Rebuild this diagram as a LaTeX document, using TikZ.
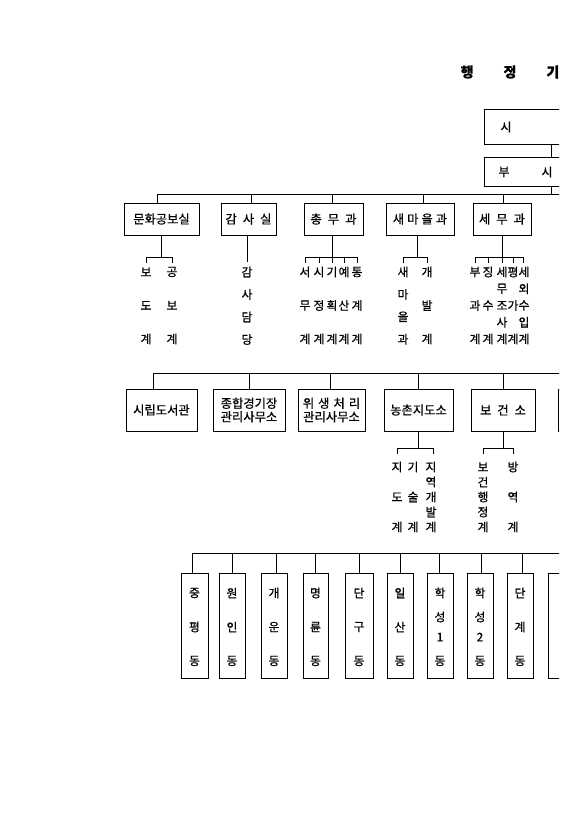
\documentclass[tikz,border=0pt]{standalone}
\usepackage{fontspec}
\setmainfont{Noto Sans CJK KR}[FakeBold=0.7]
\newcommand\kgap{\hspace{6pt}}
\newcommand\vcol[5]{\foreach \ch [count=\i from 0] in {#5}{\node[sub] (#1-\i) at ({#2},{#3+\i*#4}) {\ch};}}
\tikzset{
  box/.style={draw, line width=1pt, inner sep=0pt, font=\fontsize{12.3}{13.5}\selectfont, align=center},
  sub/.style={inner sep=0pt, font=\fontsize{11.8}{12}\selectfont},
  ln/.style={line width=0.8pt},
}
\begin{document}
\begin{tikzpicture}[x=1pt,y=-1pt]
\useasboundingbox (0,0) rectangle (586,830);
\clip (0,0) rectangle (559,830);

% title
\node[font=\bfseries\fontsize{14}{14}\selectfont, inner sep=0pt] (title) at (510,72) {행\hspace{30pt}정\hspace{30pt}기};

% top boxes
\node[box, anchor=north west, minimum width=140pt, minimum height=35pt] (si) at (484,109) {};
\node[sub, font=\fontsize{12}{12}\selectfont] (sit) at (506,127) {시};
\node[box, anchor=north west, minimum width=140pt, minimum height=29pt] (bs) at (484,157) {};
\node[sub, font=\fontsize{12}{12}\selectfont] (bst1) at (504,172) {부};
\node[sub, font=\fontsize{12}{12}\selectfont] (bst2) at (547,172) {시};
\coordinate (vx) at (551,0);
\draw[ln] (si.south -| vx) -- (bs.north -| vx);
\draw[ln] (bs.south -| vx) -- (551,194);

% row 1
\node[box, minimum width=75pt, minimum height=32pt] (mh) at (161.5,219) {문화공보실};
\node[box, minimum width=55pt, minimum height=32pt] (gs) at (248.5,219) {감\kgap 사\kgap 실};
\node[box, minimum width=59pt, minimum height=32pt] (cm) at (333.5,219) {총\kgap 무\kgap 과};
\node[box, minimum width=68pt, minimum height=32pt] (sm) at (420,219) {새\hspace{3pt}마\hspace{3pt}을\hspace{3pt}과};
\node[box, minimum width=58pt, minimum height=32pt] (sw) at (502,219) {세\kgap 무\kgap 과};
\draw[ln] (157,194) -- (600,194);
\draw[ln] (mh.north -| 157,0) -- (157,194);
\foreach \x/\n in {251/gs,332/cm,423/sm,503/sw} \draw[ln] (\n.north -| \x,0) -- (\x,194);

% row 1 sub units
\draw[ln] (mh.south -| 161,0) -- (161,257);
\draw[ln] (146,263) -- (146,257) -- (172,257) -- (172,263);
\vcol{mha}{146}{272}{33.5}{보,도,계}
\vcol{mhb}{172}{272}{33.5}{공,보,계}

\draw[ln] (gs.south -| 247,0) -- (247,262);
\vcol{gsa}{247}{272}{22.5}{감,사,담,당}

\draw[ln] (cm.south -| 332,0) -- (332,257);
\draw[ln] (305,257) -- (357,257);
\foreach \x in {305,319,332,344,357} \draw[ln] (\x,257) -- (\x,263);
\vcol{cma}{305}{272}{33.5}{서,무,계}
\vcol{cmb}{319}{272}{33.5}{시,정,계}
\vcol{cmc}{332}{272}{33.5}{기,획,계}
\vcol{cmd}{344}{272}{33.5}{예,산,계}
\vcol{cme}{357}{272}{33.5}{통,계,계}

\draw[ln] (sm.south -| 417,0) -- (417,257);
\draw[ln] (403,263) -- (403,257) -- (427,257) -- (427,263);
\vcol{sma}{403}{272}{22.4}{새,마,을,과}
\vcol{smb}{427}{272}{33.5}{개,발,계}

\draw[ln] (sw.south -| 502,0) -- (502,257);
\draw[ln] (475,257) -- (523,257);
\foreach \x in {475,488,502,513,523} \draw[ln] (\x,257) -- (\x,263);
\vcol{swa}{475}{272}{16.75}{부,,과,,계}
\vcol{swb}{488}{272}{16.75}{징,,수,,계}
\vcol{swc}{502}{272}{16.75}{세,무,조,사,계}
\vcol{swd}{513}{272}{16.75}{평,,가,,계}
\vcol{swe}{524}{272}{16.75}{세,외,수,입,계}

% row 2
\node[box, minimum width=71pt, minimum height=42pt] (lib) at (161.5,410) {시립도서관};
\node[box, minimum width=72pt, minimum height=42pt] (jh) at (249,410) {종합경기장\\관리사무소};
\node[box, minimum width=67pt, minimum height=42pt] (ws) at (331.5,410) {위\hspace{4pt}생\hspace{4pt}처\hspace{4pt}리\\관리사무소};
\node[box, minimum width=69pt, minimum height=42pt] (nc) at (418.5,410) {농촌지도소};
\node[box, minimum width=64pt, minimum height=42pt] (bg) at (503,410) {보\kgap 건\kgap 소};
\node[box, anchor=north west, minimum width=60pt, minimum height=42pt] (nx) at (558,389) {};
\draw[ln] (153,373) -- (600,373);
\foreach \x/\n in {153/lib,249/jh,330/ws,418/nc,503/bg} \draw[ln] (\n.north -| \x,0) -- (\x,373);

% row 2 sub units
\draw[ln] (nc.south -| 418,0) -- (418,448);
\draw[ln] (397,454) -- (397,448) -- (433,448) -- (433,454);
\vcol{nca}{397}{467}{15}{지,,도,,계}
\vcol{ncb}{413}{467}{15}{기,,술,,계}
\vcol{ncc}{431}{467}{15}{지,역,개,발,계}

\draw[ln] (bg.south -| 503,0) -- (503,448);
\draw[ln] (483,454) -- (483,448) -- (513,448) -- (513,454);
\vcol{bga}{483}{467}{15}{보,건,행,정,계}
\vcol{bgb}{513}{467}{15}{방,,역,,계}

% row 3
\foreach \n/\x/\w in {d1/194.5/27,d2/232/26,d3/274/26,d4/315.5/25,d5/359/28,d6/400/26,d7/440/26,d8/480/26,d9/520/26}
  \node[box, minimum width=\w pt, minimum height=105pt] (\n) at (\x,625.5) {};
\node[box, anchor=north west, minimum width=60pt, minimum height=105pt] (d10) at (548,573) {};
\draw[ln] (192,553) -- (600,553);
\foreach \x/\n in {192/d1,232/d2,276/d3,315/d4,359/d5,400/d6,439/d7,481/d8,522/d9} \draw[ln] (\n.north -| \x,0) -- (\x,553);
\vcol{t1}{194.5}{593}{34}{중,평,동}
\vcol{t2}{232}{593}{34}{원,인,동}
\vcol{t3}{274}{593}{34}{개,운,동}
\vcol{t4}{315.5}{593}{34}{명,륜,동}
\vcol{t5}{359}{593}{34}{단,구,동}
\vcol{t6}{400}{593}{34}{일,산,동}
\node[sub] (t7a) at (440,593) {학};
\node[sub] (t7b) at (440,617) {성};
\node[sub] (t7c) at (440,637) {1};
\node[sub] (t7d) at (440,661) {동};
\node[sub] (t8a) at (480,593) {학};
\node[sub] (t8b) at (480,617) {성};
\node[sub] (t8c) at (480,637) {2};
\node[sub] (t8d) at (480,661) {동};
\vcol{t9}{520}{593}{34}{단,계,동}
\end{tikzpicture}
\end{document}
